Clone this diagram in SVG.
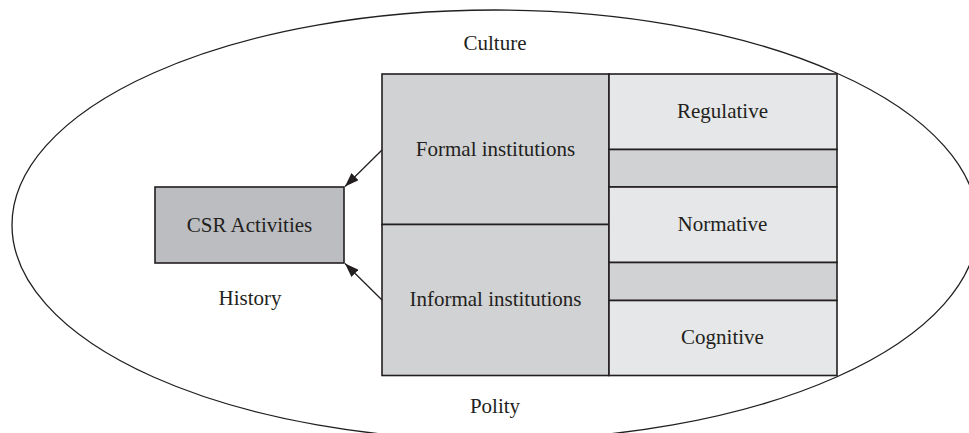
<svg xmlns="http://www.w3.org/2000/svg" width="969" height="433" viewBox="0 0 969 433">
<defs>
<style>
text{font-size:21px;fill:#231f20;text-anchor:middle}
.b{stroke:#231f20;stroke-width:1.6}
.mid{fill:#d1d2d4}
.light{fill:#e6e7e8}
.csr{fill:#bcbdc0}
.conn{stroke:#231f20;stroke-width:1.3;fill:none}
</style>
<marker id="ah" viewBox="0 0 14 10" refX="14" refY="5" markerWidth="14" markerHeight="10" markerUnits="userSpaceOnUse" orient="auto">
<path d="M0,0 L14,5 L0,10 Z" fill="#231f20"/>
</marker>
</defs>
<rect width="969" height="433" fill="#ffffff"/>
<g font-family="Liberation Serif, DejaVu Serif, serif">
<g id="context">
<ellipse cx="495" cy="225" rx="483" ry="215" fill="none" stroke="#231f20" stroke-width="1.3"/>
<text x="495" y="50">Culture</text>
<text x="250" y="305">History</text>
<text x="495" y="413">Polity</text>
</g>
<g id="csr">
<rect class="b csr" x="155" y="187" width="189" height="76"/>
<text x="249.5" y="232">CSR Activities</text>
</g>
<g id="formal">
<rect class="b mid" x="382" y="74" width="227" height="150.5"/>
<text x="495.5" y="156">Formal institutions</text>
</g>
<g id="informal">
<rect class="b mid" x="382" y="224.5" width="227" height="151"/>
<text x="495.5" y="306">Informal institutions</text>
</g>
<g id="regulative">
<rect class="b light" x="609" y="74" width="228" height="75.5"/>
<text x="722.5" y="118">Regulative</text>
</g>
<g id="band1">
<rect class="b mid" x="609" y="149.5" width="228" height="37.5"/>
</g>
<g id="normative">
<rect class="b light" x="609" y="187" width="228" height="75.5"/>
<text x="722.5" y="231">Normative</text>
</g>
<g id="band2">
<rect class="b mid" x="609" y="262.5" width="228" height="38"/>
</g>
<g id="cognitive">
<rect class="b light" x="609" y="300.5" width="228" height="75"/>
<text x="722.5" y="344">Cognitive</text>
</g>
</g>
<g id="connectors">
<line class="conn" x1="382" y1="150" x2="345" y2="186.5" marker-end="url(#ah)"/>
<line class="conn" x1="382" y1="300" x2="345" y2="263.5" marker-end="url(#ah)"/>
</g>
</svg>
